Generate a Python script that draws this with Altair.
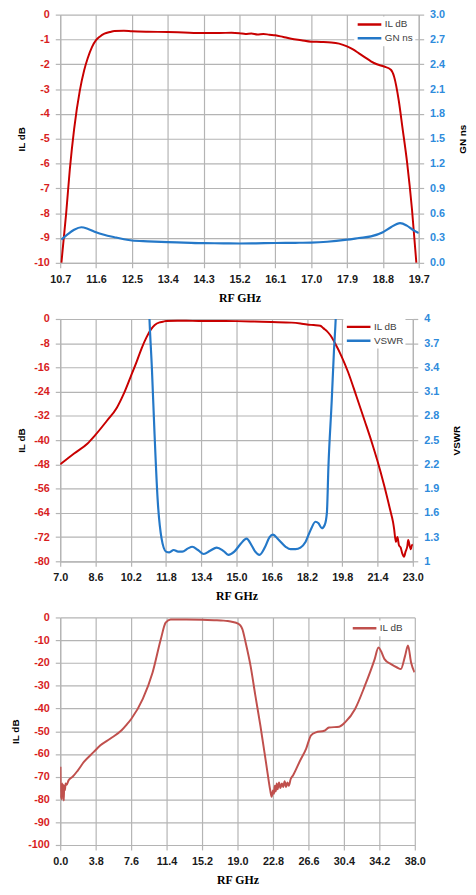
import altair as alt
import pandas as pd

RED = "#C80000"
BLUE = "#2478C8"
RED3 = "#C0504D"
LBL_RED = "#D81E1E"
LBL_BLUE = "#2E8BDC"
GRID = "#B4B4B4"

# ---------------- Panel 1 ----------------
p1_il_f = [10.73, 10.85, 10.94, 11.05, 11.19, 11.30, 11.39, 11.50, 11.60, 11.70,
           11.81, 11.95, 12.06, 12.30, 12.50, 12.90, 13.40, 13.80, 14.30, 14.70,
           15.00, 15.20, 15.35, 15.50, 15.65, 15.80, 15.95, 16.10, 16.30, 16.50,
           16.75, 17.00, 17.25, 17.50, 17.70, 17.90, 18.05, 18.20, 18.35, 18.50,
           18.65, 18.83, 19.00, 19.08, 19.20, 19.29, 19.41, 19.53, 19.64]
p1_il_db = [-10.0, -8.0, -6.26, -4.6, -3.08, -2.25, -1.76, -1.30, -1.03, -0.88,
            -0.77, -0.70, -0.66, -0.65, -0.67, -0.69, -0.70, -0.72, -0.74, -0.74,
            -0.73, -0.75, -0.78, -0.76, -0.80, -0.78, -0.81, -0.83, -0.90, -0.97,
            -1.03, -1.09, -1.10, -1.12, -1.17, -1.28, -1.40, -1.56, -1.72, -1.88,
            -2.00, -2.09, -2.22, -2.49, -3.48, -4.54, -5.99, -7.84, -10.0]
p1_gn_f = [10.73, 10.90, 11.05, 11.23, 11.40, 11.60, 11.80, 12.06, 12.30, 12.50,
           12.90, 13.40, 13.80, 14.30, 14.80, 15.20, 15.60, 16.10, 16.60, 17.00,
           17.40, 17.90, 18.20, 18.50, 18.80, 19.00, 19.23, 19.40, 19.55, 19.70]
p1_gn_ns = [0.28, 0.35, 0.40, 0.43, 0.41, 0.37, 0.34, 0.31, 0.285, 0.27,
            0.26, 0.25, 0.245, 0.238, 0.236, 0.234, 0.236, 0.24, 0.242, 0.245,
            0.255, 0.28, 0.30, 0.32, 0.37, 0.43, 0.48, 0.45, 0.40, 0.36]
p1_x_ticks = [10.7, 11.6, 12.5, 13.4, 14.3, 15.2, 16.1, 17.0, 17.9, 18.8, 19.7]
p1_il_ticks = [0, -1, -2, -3, -4, -5, -6, -7, -8, -9, -10]
p1_gn_ticks = [0.0, 0.3, 0.6, 0.9, 1.2, 1.5, 1.8, 2.1, 2.4, 2.7, 3.0]

# ---------------- Panel 2 ----------------
p2_il_f = [7.0, 7.63, 8.23, 8.57, 9.12, 9.57, 9.87, 10.2, 10.47, 10.69,
           10.92, 11.11, 11.29, 11.51, 11.66, 11.8, 12.6, 13.4, 14.2, 15.0,
           15.8, 16.6, 17.5, 17.9, 18.2, 18.5, 18.8, 18.95, 19.1, 19.25,
           19.47, 19.77, 20.06, 20.44, 20.81, 21.15, 21.38, 21.7, 21.97, 22.1,
           22.15, 22.23, 22.3, 22.37, 22.45, 22.52, 22.6, 22.67, 22.75, 22.79,
           22.86, 22.91, 22.97, 23.0]
p2_il_db = [-48.0, -44.4, -41.2, -38.5, -33.6, -29.3, -24.9, -19.0, -14.1, -9.75,
            -6.0, -3.5, -1.95, -1.1, -0.9, -0.65, -0.6, -0.65, -0.65, -0.7,
            -0.85, -1.0, -1.2, -1.5, -1.85, -2.0, -2.2, -3.1, -4.0, -5.3,
            -8.0, -12.4, -17.5, -25.5, -33.5, -41.0, -46.5, -55.0, -63.0, -67.0,
            -69.3, -73.6, -72.0, -74.7, -75.5, -77.4, -78.5, -76.8, -75.0, -73.0,
            -75.0, -76.0, -74.5, -75.0]
p2_vs_f = [10.95, 11.05, 11.16, 11.28, 11.42, 11.6, 11.8, 11.95, 12.15, 12.35,
           12.54, 12.8, 12.99, 13.25, 13.51, 13.8, 14.1, 14.4, 14.63, 14.9,
           15.2, 15.45, 15.7, 15.85, 16.04, 16.3, 16.5, 16.65, 16.9, 17.23,
           17.45, 17.68, 17.9, 18.13, 18.35, 18.58, 18.72, 18.87, 19.0, 19.1,
           19.17, 19.32, 19.42, 19.5, 19.6]
p2_vs_v = [4.8, 4.0, 3.39, 2.58, 1.77, 1.28, 1.12, 1.11, 1.14, 1.12,
           1.12, 1.16, 1.18, 1.14, 1.09, 1.13, 1.17, 1.13, 1.08, 1.12,
           1.22, 1.28, 1.19, 1.12, 1.08, 1.18, 1.30, 1.33, 1.27, 1.18,
           1.15, 1.15, 1.17, 1.24, 1.38, 1.49, 1.47, 1.41, 1.45, 1.6,
           2.17, 2.99, 3.6, 4.0, 4.8]
p2_x_ticks = [7.0, 8.6, 10.2, 11.8, 13.4, 15.0, 16.6, 18.2, 19.8, 21.4, 23.0]
p2_il_ticks = [0, -8, -16, -24, -32, -40, -48, -56, -64, -72, -80]
p2_vs_ticks = [1, 1.3, 1.6, 1.9, 2.2, 2.5, 2.8, 3.1, 3.4, 3.7, 4]

# ---------------- Panel 3 ----------------
p3_il_f = [0.03, 0.08, 0.12, 0.17, 0.22, 0.28, 0.33, 0.38, 0.43, 0.5,
           0.58, 0.7, 0.9, 1.33, 1.86, 2.56, 3.6, 4.31, 5.35, 6.58,
           7.1, 7.63, 8.85, 9.9, 10.78, 11.3, 11.83, 13.5, 15.2, 16.5,
           17.5, 17.95, 18.5, 19.0, 19.3, 19.52, 19.87, 20.4, 20.9, 21.45,
           22.15, 22.5, 22.66, 22.8, 22.9, 23.0, 23.1, 23.2, 23.3, 23.45,
           23.6, 23.75, 23.9, 24.05, 24.2, 24.35, 24.5, 24.7, 24.96, 25.65,
           26.36, 26.88, 27.4, 28.3, 28.8, 29.9, 30.55, 31.6, 32.65, 33.7,
           34.1, 34.4, 34.75, 35.45, 36.1, 36.5, 36.95, 37.27, 37.6, 37.97]
p3_il_db = [-65.6, -79.5, -74.0, -80.0, -73.0, -78.5, -73.5, -80.5, -74.0, -76.0,
            -73.0, -73.5, -71.5, -70.0, -67.4, -63.4, -59.1, -56.2, -53.3, -49.6,
            -47.2, -44.5, -35.8, -24.2, -9.6, -2.3, -0.9, -0.9, -1.0, -1.2,
            -1.4, -1.6, -2.0, -2.6, -3.5, -5.1, -11.0, -21.3, -34.0, -47.5,
            -66.4, -75.8, -78.8, -76.0, -77.5, -74.0, -76.5, -73.0, -75.5, -72.5,
            -75.0, -73.0, -74.5, -72.0, -74.5, -72.5, -74.0, -71.0, -69.3, -63.4,
            -57.6, -51.8, -50.5, -49.8, -48.4, -48.0, -46.0, -40.2, -30.0, -18.3,
            -13.2, -15.0, -18.3, -20.5, -22.0, -22.7, -17.0, -12.3, -19.8, -24.1]
p3_x_ticks = [0.0, 3.8, 7.6, 11.4, 15.2, 19.0, 22.8, 26.6, 30.4, 34.2, 38.0]
p3_il_ticks = [0, -10, -20, -30, -40, -50, -60, -70, -80, -90, -100]

PLOT_LEFT = 61


def frame(f, v, name):
    return pd.DataFrame({"f": f, "v": v, "s": name})


def x_enc(ticks):
    return alt.X("f:Q",
                 scale=alt.Scale(domain=[ticks[0], ticks[-1]], nice=False, zero=False),
                 axis=alt.Axis(values=ticks, format=".1f", title="RF GHz",
                               labelFlush=False, grid=True, labelColor="#1A1A1A",
                               labelPadding=6, titlePadding=8,
                               titleFont="Liberation Serif", titleFontSize=12))


def y_left(ticks):
    return alt.Y("v:Q",
                 scale=alt.Scale(domain=[ticks[-1], ticks[0]], nice=False, zero=False),
                 axis=alt.Axis(values=ticks, title="IL dB", orient="left", grid=True,
                               labelExpr="datum.value + ''", labelColor=LBL_RED,
                               titlePadding=7))


def y_right(ticks, title, fmt, tpad):
    return alt.Y("v:Q",
                 scale=alt.Scale(domain=[ticks[0], ticks[-1]], nice=False, zero=False),
                 axis=alt.Axis(values=ticks, title=title, orient="right", grid=False,
                               format=fmt, labelColor=LBL_BLUE, titleAngle=270,
                               titleBaseline="top", titlePadding=tpad))


def legend(lx, ly):
    return alt.Legend(title=None, orient="none", legendX=lx, legendY=ly,
                      direction="vertical", symbolType="stroke", symbolSize=576,
                      symbolStrokeWidth=2.5, clipHeight=12, rowPadding=2, padding=2,
                      fillColor="white", labelFont="Liberation Sans", labelFontSize=10,
                      labelFontWeight="normal", labelColor="#404040", labelOffset=2)


def color_enc(names, colors, lx, ly):
    return alt.Color("s:N", scale=alt.Scale(domain=names, range=colors),
                     legend=legend(lx, ly))


# Panel 1
n1 = ["IL dB", "GN ns"]
c1 = [RED, BLUE]
p1a = alt.Chart(frame(p1_il_f, p1_il_db, "IL dB")).mark_line(
    strokeWidth=2, clip=True, interpolate="monotone").encode(
    x=x_enc(p1_x_ticks), y=y_left(p1_il_ticks),
    color=color_enc(n1, c1, 359.5 - PLOT_LEFT, 2), order=alt.Order("f:Q"))
p1b = alt.Chart(frame(p1_gn_f, p1_gn_ns, "GN ns")).mark_line(
    strokeWidth=2.2, clip=True, interpolate="monotone").encode(
    x=x_enc(p1_x_ticks), y=y_right(p1_gn_ticks, "GN ns", ".1f", 13),
    color=color_enc(n1, c1, 359.5 - PLOT_LEFT, 2), order=alt.Order("f:Q"))
panel1 = alt.layer(p1a, p1b).resolve_scale(y="independent").properties(
    width=425 - PLOT_LEFT, height=252)

# Panel 2
n2 = ["IL dB", "VSWR"]
c2 = [RED, BLUE]
p2a = alt.Chart(frame(p2_il_f, p2_il_db, "IL dB")).mark_line(
    strokeWidth=2, clip=True, interpolate="monotone").encode(
    x=x_enc(p2_x_ticks), y=y_left(p2_il_ticks),
    color=color_enc(n2, c2, 348.5 - PLOT_LEFT, 0), order=alt.Order("f:Q"))
p2b = alt.Chart(frame(p2_vs_f, p2_vs_v, "VSWR")).mark_line(
    strokeWidth=2.2, clip=True, interpolate="monotone").encode(
    x=x_enc(p2_x_ticks), y=y_right(p2_vs_ticks, "VSWR", "~g", 13),
    color=color_enc(n2, c2, 348.5 - PLOT_LEFT, 0), order=alt.Order("f:Q"))
panel2 = alt.layer(p2a, p2b).resolve_scale(y="independent").properties(
    width=419 - PLOT_LEFT, height=246)

# Panel 3
p3a = alt.Chart(frame(p3_il_f, p3_il_db, "IL dB")).mark_line(
    strokeWidth=2, clip=True, interpolate="monotone").encode(
    x=x_enc(p3_x_ticks), y=y_left(p3_il_ticks),
    color=color_enc(["IL dB"], [RED3], 354.5 - PLOT_LEFT, 3), order=alt.Order("f:Q"))
panel3 = p3a.properties(width=421 - PLOT_LEFT, height=231)

chart = alt.vconcat(panel1, panel2, panel3, spacing=57, bounds="flush").resolve_scale(
    color="independent").resolve_legend(color="independent").properties(
    padding={"left": 2, "top": -6, "right": 0, "bottom": 0}
).configure_view(strokeWidth=0).configure_axis(
    labelFont="Liberation Sans", labelFontSize=11, labelFontWeight="bold",
    labelPadding=6, tickSize=5, tickColor=GRID, domainColor=GRID,
    gridColor=GRID, gridWidth=1.2, domainWidth=1.2, tickWidth=1.2,
    titleFont="Liberation Sans", titleFontSize=10, titleFontWeight="bold",
    titleColor="#000000"
)

chart.save("out.html", embed_options={"renderer": "svg", "actions": False})
